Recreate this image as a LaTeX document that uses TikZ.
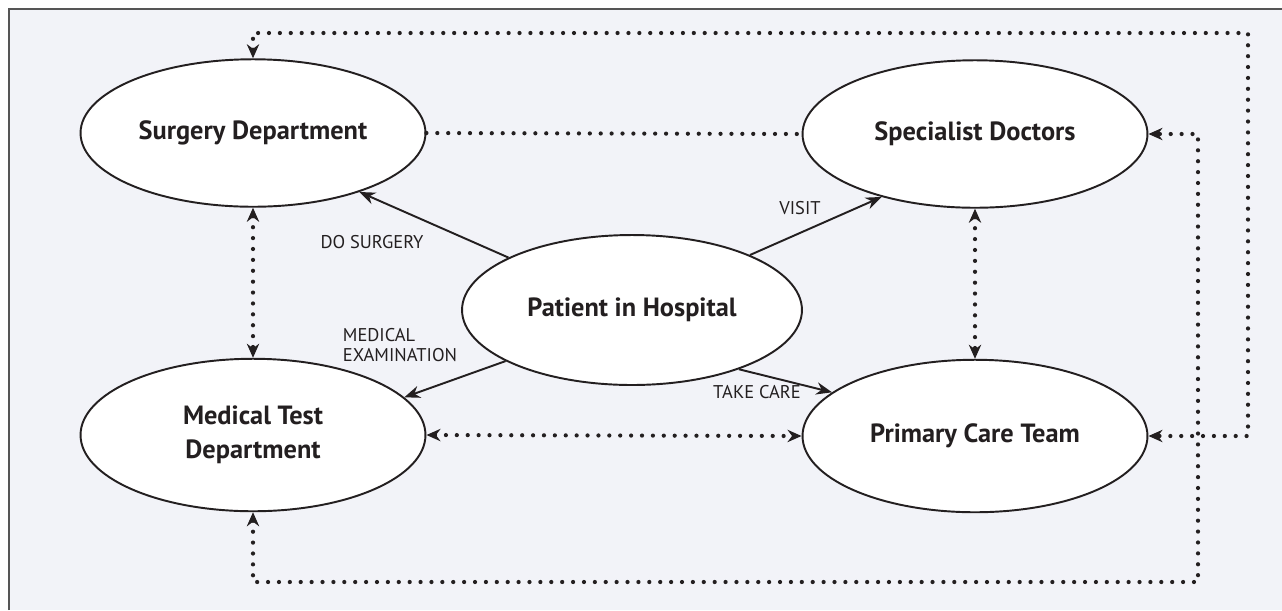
\documentclass[tikz,border=0pt]{standalone}
\usepackage{fontspec}
\setmainfont{PT Sans}
\usetikzlibrary{shapes.geometric, arrows.meta}
\definecolor{bgcol}{RGB}{242,243,248}
\definecolor{framecol}{RGB}{85,85,85}
\definecolor{inkcol}{RGB}{35,31,32}
\tikzstyle{dept} = [ellipse, minimum width=6.9cm, minimum height=2.95cm, text centered, align=center, draw=inkcol, line width=1.1pt, fill=white, font=\fontsize{15}{19.5}\selectfont\bfseries, text=inkcol]
\tikzstyle{tag} = [font=\fontsize{10.5}{11.5}\selectfont, text=inkcol, align=left, inner sep=0pt]
\tikzstyle{arrow} = [line width=1.1pt, draw=inkcol, -{Stealth[length=9pt,width=7pt]}]
\tikzstyle{link} = [draw=inkcol, line width=2.4pt, line cap=round, dash pattern=on 0pt off 6.2pt, >={Stealth[open,length=8pt,width=7pt,line width=1.4pt]}]

\begin{document}
\begin{tikzpicture}[x=0.02cm, y=-0.02cm]

% Frame and background
\useasboundingbox (0,0) rectangle (1282,610);
\fill[bgcol] (9,9) rectangle (1282,610);
\draw[framecol, line width=1pt] (9,610) -- (9,9) -- (1282,9);

% Departments
\node (surgery) [dept] at (253,133) {Surgery Department};
\node (specialist) [dept] at (975,134) {Specialist Doctors};
\node (patient) [dept, minimum width=6.8cm, minimum height=3cm] at (632,310) {Patient in Hospital};
\node (medtest) [dept, minimum height=3.05cm] at (253,435) {Medical Test\\Department};
\node (primary) [dept, minimum height=3.05cm] at (975,436) {Primary Care Team};

% Corners of the outer routes
\coordinate (topcorner) at (1248,33);
\coordinate (botcorner) at (1198,582);

% Labels
\node (surgeryTag) [tag] at (372,242) {DO SURGERY};
\node (visitTag) [tag] at (800,208) {VISIT};
\node (examTag) [tag] at (400,345) {MEDICAL\\EXAMINATION};
\node (careTag) [tag] at (757,392) {TAKE CARE};

% Patient - Arrows
\draw [arrow] (patient.157) -- (surgery.331);
\draw [arrow] (patient.25) -- (specialist.214);
\draw [arrow] (patient.202) -- (medtest.14);
\draw [arrow] (patient.331) -- (primary.163);

% Dotted links
\draw [link] (surgery.east) -- (specialist.west);
\draw [link, <->] (surgery.south) -- (medtest.north);
\draw [link, <->] (specialist.south) -- (primary.north);
\draw [link, <->] (medtest.east) -- (primary.west);
\draw [link, <->] (surgery.north) |- (topcorner) |- (primary.east);
\draw [link, <->] (medtest.south) |- (botcorner) |- (specialist.east);

\end{tikzpicture}
\end{document}
